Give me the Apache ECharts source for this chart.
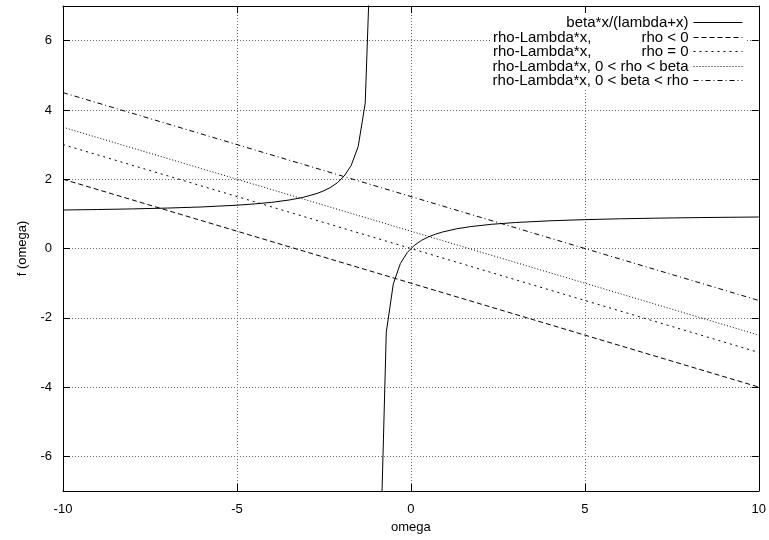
<!DOCTYPE html>
<html>
<head>
<meta charset="utf-8">
<script src="https://cdn.jsdelivr.net/npm/echarts@6/dist/echarts.min.js"></script>
<style>
  html, body { margin: 0; padding: 0; background: #fff; }
  #chart { width: 769px; height: 540px; }
</style>
</head>
<body>
<div id="chart"></div>
<script>
// sampled points of beta*x/(lambda+x), null = break at the pole
const curveX = [-10, -9, -8, -7, -6, -5, -4.5, -4, -3.5, -3.12, -2.727, -2.525, -2.323, -2.121, -1.919, -1.717, -1.515, -1.313, -1.111,
  -1.0, -0.909, -0.707, -0.505, -0.303, -0.101, 0.101, 0.303, 0.505, 0.707, 0.909, 1.313, 1.717, 2.323, 3, 4, 5, 6, 7, 8, 9, 10]
const curveY = [1.111, 1.125, 1.143, 1.167, 1.2, 1.25, 1.286, 1.333, 1.4, 1.472, 1.579, 1.656, 1.756, 1.892, 2.088, 2.394, 2.941, 4.194, 10,
  null, -10, -2.414, -1.02, -0.435, -0.112, 0.092, 0.233, 0.336, 0.414, 0.476, 0.568, 0.632, 0.699, 0.75, 0.8, 0.833, 0.857, 0.875, 0.889, 0.9, 0.909]

// straight lines rho - Lambda*x, endpoints
const lineX = [-10, 10]
const rhoNeg = [2, -4]
const rhoZero = [3, -3]
const rhoMid = [3.5, -2.5]
const rhoBig = [4.5, -1.5]

const names = [
  'beta*x/(lambda+x)',
  'rho-Lambda*x,            rho < 0',
  'rho-Lambda*x,            rho = 0',
  'rho-Lambda*x, 0 < rho < beta',
  'rho-Lambda*x, 0 < beta < rho'
]
const dashes = ['solid', [5, 3], [2, 4], [1, 2], [5, 3, 1, 3]]

const font = "'Liberation Sans', Arial, sans-serif"

function pairs(xs, ys) {
  return xs.map((x, i) => ys[i] === null ? [x, '-'] : [x, ys[i]])
}

const seriesData = [
  pairs(curveX, curveY),
  pairs(lineX, rhoNeg),
  pairs(lineX, rhoZero),
  pairs(lineX, rhoMid),
  pairs(lineX, rhoBig)
]

const chart = echarts.init(document.getElementById('chart'), null, { renderer: 'canvas' })

const rowTops = [14, 29, 43, 58, 72]
const legends = names.map((n, i) => ({
  data: [n],
  right: 23,
  top: rowTops[i],
  align: 'right',
  itemWidth: 49,
  itemHeight: 14,
  padding: [1, 3],
  backgroundColor: '#fff',
  selectedMode: false,
  itemStyle: { opacity: 0 },
  lineStyle: { width: 1 },
  textStyle: { color: '#000', fontSize: 15, fontFamily: font }
}))

const grid = { left: 63, right: 8, top: 6, bottom: 49 }

const tickStyle = { inside: true, length: 7, lineStyle: { color: '#000', width: 1 } }
const gridLine = { show: true, lineStyle: { color: '#666', type: [1, 2], width: 1 } }

const option = {
  animation: false,
  backgroundColor: '#fff',
  legend: legends,
  grid: grid,
  xAxis: [{
    type: 'value', min: -10, max: 10, interval: 5,
    name: 'omega', nameLocation: 'middle', nameGap: 30,
    nameTextStyle: { color: '#000', fontSize: 13, fontFamily: font },
    axisLine: { onZero: false, lineStyle: { color: '#000', width: 1 } },
    axisTick: tickStyle,
    axisLabel: { color: '#000', fontSize: 13, fontFamily: font, margin: 12 },
    splitLine: gridLine
  }, {
    type: 'value', min: -10, max: 10, interval: 5, position: 'top',
    axisLine: { onZero: false, lineStyle: { color: '#000', width: 1 } },
    axisTick: tickStyle,
    axisLabel: { show: false },
    splitLine: { show: false }
  }],
  yAxis: [{
    type: 'value', min: -7, max: 7, splitNumber: 7,
    name: 'f (omega)', nameLocation: 'middle', nameGap: 34, nameRotate: 90,
    nameTextStyle: { color: '#000', fontSize: 13, fontFamily: font },
    axisLine: { show: true, onZero: false, lineStyle: { color: '#000', width: 1 } },
    axisTick: { show: true, ...tickStyle },
    axisLabel: { color: '#000', fontSize: 13, fontFamily: font, margin: 11, showMinLabel: false, showMaxLabel: false },
    splitLine: gridLine
  }, {
    type: 'value', min: -7, max: 7, splitNumber: 7, position: 'right',
    axisLine: { show: true, onZero: false, lineStyle: { color: '#000', width: 1 } },
    axisTick: { show: true, ...tickStyle },
    axisLabel: { show: false },
    splitLine: { show: false }
  }],
  series: seriesData.map((d, i) => ({
    name: names[i],
    type: 'line',
    data: d,
    symbol: 'none',
    connectNulls: false,
    clip: true,
    lineStyle: { color: '#000', width: 1, type: dashes[i] },
    itemStyle: { color: '#000' }
  }))
}

chart.setOption(option)
</script>
</body>
</html>
